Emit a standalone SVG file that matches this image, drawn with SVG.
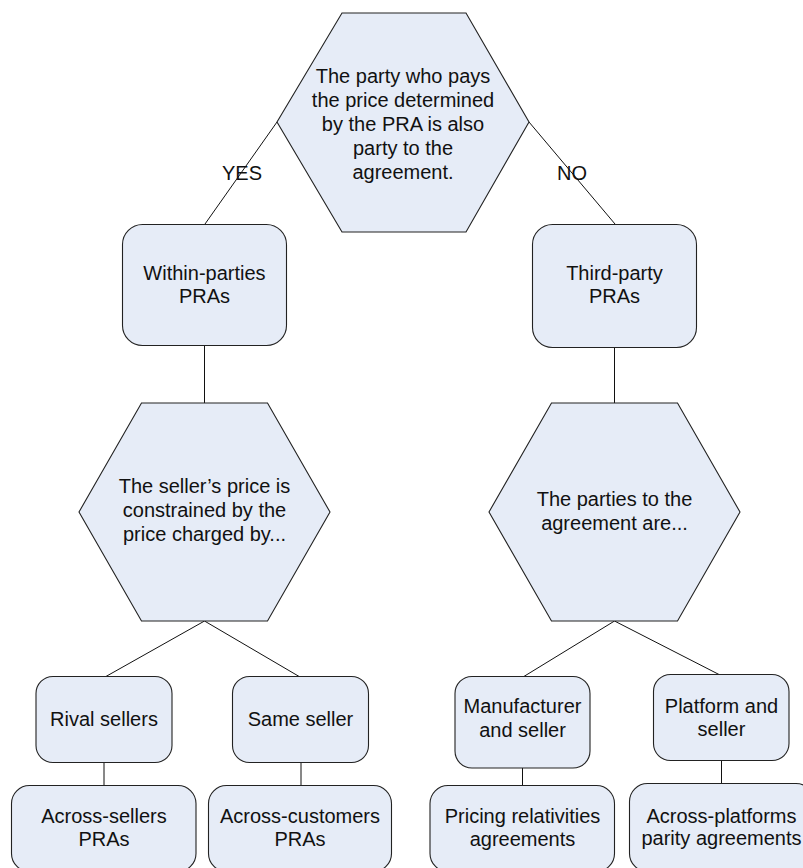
<svg xmlns="http://www.w3.org/2000/svg" width="803" height="868" viewBox="0 0 803 868">
<style>
.n{fill:#e6ecf7;stroke:#222;stroke-width:1.1}
.c{stroke:#111;stroke-width:1;fill:none}
text{font-family:"Liberation Sans",Arial,sans-serif;font-size:20px;fill:#111;text-anchor:middle}
</style>
<rect width="803" height="868" fill="#fff"/>
<g id="connectors">
<line class="c" x1="277" y1="122" x2="205" y2="224"/>
<line class="c" x1="529" y1="122" x2="615" y2="224"/>
<line class="c" x1="204.5" y1="346" x2="204.5" y2="403"/>
<line class="c" x1="614.5" y1="347" x2="614.5" y2="403"/>
<line class="c" x1="204.5" y1="621" x2="105" y2="677"/>
<line class="c" x1="204.5" y1="621" x2="300" y2="677"/>
<line class="c" x1="614.5" y1="621" x2="523" y2="677"/>
<line class="c" x1="614.5" y1="621" x2="720" y2="675"/>
<line class="c" x1="104" y1="763" x2="104" y2="786"/>
<line class="c" x1="301" y1="763" x2="301" y2="786"/>
<line class="c" x1="522.5" y1="768" x2="522.5" y2="786"/>
<line class="c" x1="721.5" y1="761" x2="721.5" y2="783"/>
<text x="242" y="180">YES</text>
<text x="572" y="180">NO</text>
</g>
<g id="root">
<polygon class="n" points="342,13 466,13 529,122 466,232 342,232 277,122"/>
<text x="403" y="83">The party who pays</text>
<text x="403" y="107">the price determined</text>
<text x="403" y="131">by the PRA is also</text>
<text x="403" y="155">party to the</text>
<text x="403" y="179">agreement.</text>
</g>
<g id="within">
<rect class="n" x="122.5" y="224.5" width="164" height="121" rx="20"/>
<text x="204.5" y="280">Within-parties</text>
<text x="204.5" y="303">PRAs</text>
</g>
<g id="third">
<rect class="n" x="532.5" y="224.5" width="164" height="123" rx="20"/>
<text x="614.5" y="280">Third-party</text>
<text x="614.5" y="303">PRAs</text>
</g>
<g id="seller-q">
<polygon class="n" points="141.5,403 267.5,403 330,512 267.5,621 141.5,621 79,512"/>
<text x="204.5" y="493">The seller’s price is</text>
<text x="204.5" y="517">constrained by the</text>
<text x="204.5" y="541">price charged by...</text>
</g>
<g id="parties-q">
<polygon class="n" points="551.5,403 677.5,403 740,512 677.5,621 551.5,621 489,512"/>
<text x="614.5" y="506">The parties to the</text>
<text x="614.5" y="530">agreement are...</text>
</g>
<g id="rival">
<rect class="n" x="36" y="676.5" width="136" height="86" rx="17"/>
<text x="104" y="726">Rival sellers</text>
</g>
<g id="same">
<rect class="n" x="232.5" y="676.5" width="136" height="86" rx="17"/>
<text x="300.5" y="726">Same seller</text>
</g>
<g id="manufacturer">
<rect class="n" x="455" y="676.5" width="135" height="91.5" rx="17"/>
<text x="522.5" y="713">Manufacturer</text>
<text x="522.5" y="737">and seller</text>
</g>
<g id="platform">
<rect class="n" x="653.5" y="674.5" width="135.5" height="86" rx="17"/>
<text x="721.5" y="713">Platform and</text>
<text x="721.5" y="736">seller</text>
</g>
<g id="across-sellers">
<rect class="n" x="11.5" y="785.5" width="184.5" height="86" rx="18"/>
<text x="104" y="823">Across-sellers</text>
<text x="104" y="846">PRAs</text>
</g>
<g id="across-customers">
<rect class="n" x="208.5" y="785.5" width="183" height="86" rx="18"/>
<text x="300" y="823">Across-customers</text>
<text x="300" y="846">PRAs</text>
</g>
<g id="pricing">
<rect class="n" x="430" y="785.5" width="184.5" height="86" rx="18"/>
<text x="522.5" y="823">Pricing relativities</text>
<text x="522.5" y="846">agreements</text>
</g>
<g id="across-platforms">
<rect class="n" x="629.5" y="783.5" width="184.5" height="88" rx="18"/>
<text x="721.5" y="823">Across-platforms</text>
<text x="721.5" y="845">parity agreements</text>
</g>
</svg>
